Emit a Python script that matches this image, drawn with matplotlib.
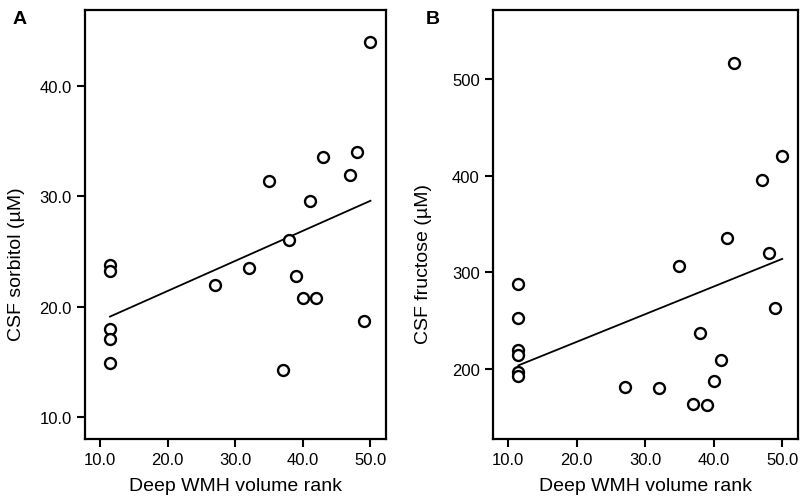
import matplotlib
matplotlib.use('Agg')
import matplotlib.pyplot as plt
import numpy as np

plt.rcParams['font.family'] = ['Liberation Sans', 'DejaVu Sans']

# Deep WMH volume rank (same ranks in both panels)
rank_a = [11.5, 11.5, 11.5, 11.5, 11.5, 27, 32, 35, 37, 38, 39, 40, 41, 42, 43, 47, 48, 49, 50]
sorbitol = [23.8, 23.2, 18.0, 17.1, 14.9, 22.0, 23.5, 31.4, 14.3, 26.0, 22.8, 20.8,
            29.6, 20.8, 33.6, 31.9, 34.0, 18.7, 44.0]

rank_b = [11.5, 11.5, 11.5, 11.5, 11.5, 11.5, 27, 32, 35, 37, 38, 39, 40, 41, 42, 43, 47, 48, 49, 50]
fructose = [288, 253, 220, 215, 197, 193, 182, 181, 307, 164, 237, 163, 188, 210,
            336, 516, 395, 320, 263, 420]

# fitted lines at rank 11.5 and 50
fit_x = [11.5, 50]
fit_a = [19.1, 29.6]
fit_b = [204, 314]

x_ticks = [10, 20, 30, 40, 50]
sorb_ticks = [10, 20, 30, 40]
fruc_ticks = [200, 300, 400, 500]

fig = plt.figure(figsize=(8.01, 5.02), dpi=100)
ax1 = fig.add_axes([85 / 801, 62 / 502, 301 / 801, 429 / 502])
ax2 = fig.add_axes([493 / 801, 62 / 502, 305 / 801, 429 / 502])


def draw_panel(ax, x, y, fit_y, yticks, yfmt, ylim, ylabel, letter, letter_x):
    ax.scatter(x, y, s=62, facecolors='white', edgecolors='black', linewidths=1.7, zorder=3)
    ax.plot(fit_x, fit_y, color='black', linewidth=1.3, zorder=2)

    ax.set_xlim(7.8, 52.3)
    ax.set_ylim(*ylim)
    ax.set_xticks(x_ticks)
    ax.set_xticklabels(['%.1f' % t for t in x_ticks])
    ax.set_yticks(yticks)
    ax.set_yticklabels([yfmt % t for t in yticks])
    ax.tick_params(direction='out', length=6, width=1.5, labelsize=12, pad=3.5)
    for s in ax.spines.values():
        s.set_linewidth(1.6)
    ax.set_xlabel('Deep WMH volume rank', fontsize=14, labelpad=7)
    ax.set_ylabel(ylabel, fontsize=14)
    ax.yaxis.set_label_coords(-0.2, 0.41)
    fig.text(letter_x / 801, 1 - 19 / 502, letter, fontsize=14, fontweight='bold',
             ha='center', va='center')


draw_panel(ax1, rank_a, sorbitol, fit_a, sorb_ticks, '%.1f', (8.0, 46.9),
           'CSF sorbitol (µM)', 'A', 20)
draw_panel(ax2, rank_b, fructose, fit_b, fruc_ticks, '%d', (128, 571),
           'CSF fructose (µM)', 'B', 433)

plt.savefig('out.png', dpi=100)
plt.close()
